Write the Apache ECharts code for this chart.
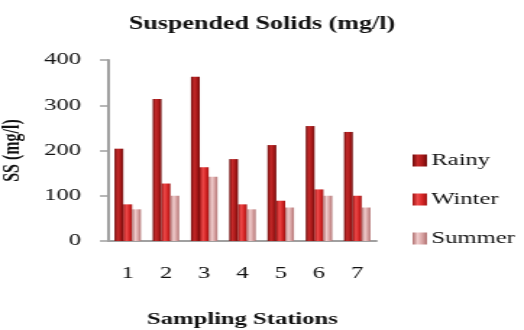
<!DOCTYPE html>
<html>
<head>
<meta charset="UTF-8">
<title>Suspended Solids</title>
<script type="text/javascript" src="https://cdn.jsdelivr.net/npm/echarts@6/dist/echarts.min.js"></script>
<style>
  html, body { margin: 0; padding: 0; background: #fff; overflow: hidden; }
  /* the original picture is stretched sideways, so the chart is drawn narrow and widened */
  #main { width: 362px; height: 330px; transform: scaleX(1.4475); transform-origin: 0 0; }
</style>
</head>
<body>
	<div id="main"></div>
<script type="text/javascript">
var stations = ['1', '2', '3', '4', '5', '6', '7'];
var rainy = [204, 314, 363, 181, 212, 254, 241];
var winter = [81, 127, 163, 81, 89, 114, 100];
var summer = [70, 100, 142, 70, 74, 100, 74];

var serif = '"Liberation Serif", "DejaVu Serif", serif';

function barColor(dark, mid, light) {
  return new echarts.graphic.LinearGradient(0, 0, 1, 0, [
    { offset: 0, color: dark },
    { offset: 0.35, color: light },
    { offset: 0.7, color: mid },
    { offset: 1, color: dark }
  ]);
}

var myChart = echarts.init(document.getElementById('main'));

function makeSeries(name, data, c) {
  return {
    name: name,
    type: 'bar',
    data: data,
    barWidth: 6.1,
    barGap: '0%',
    itemStyle: { color: c }
  };
}

var option = {
  backgroundColor: '#fff',
  animation: false,
  title: {
    text: 'Suspended Solids (mg/l)',
    left: 176,
    textAlign: 'center',
    top: 10,
    textStyle: { fontFamily: serif, fontSize: 18, fontWeight: 'bold', color: '#111' }
  },
  legend: {
    orient: 'vertical',
    left: 280,
    top: 147,
    itemWidth: 10,
    itemHeight: 12,
    itemGap: 22,
    icon: 'rect',
    textStyle: { fontFamily: serif, fontSize: 17, color: '#111', padding: [0, 0, 0, -2] },
    data: ['Rainy', 'Winter', 'Summer']
  },
  grid: { left: 75, right: 102, top: 60, bottom: 89, outerBoundsMode: 'none' },
  xAxis: {
    type: 'category',
    data: stations,
    name: 'Sampling Stations',
    nameLocation: 'middle',
    nameGap: 70,
    nameTextStyle: { fontFamily: serif, fontSize: 17, fontWeight: 'bold', color: '#111' },
    axisLine: { lineStyle: { color: '#a0a0a0', width: 2 } },
    axisTick: { show: false },
    axisLabel: { fontFamily: serif, fontSize: 17, color: '#111', margin: 24 }
  },
  yAxis: {
    type: 'value',
    min: 0,
    max: 400,
    interval: 100,
    name: 'SS (mg/l)',
    nameLocation: 'middle',
    nameGap: 58,
    nameTextStyle: { fontFamily: serif, fontSize: 16, fontWeight: 'bold', color: '#111' },
    axisLine: { show: true, lineStyle: { color: '#a0a0a0', width: 2 } },
    axisTick: { show: true, length: 6, lineStyle: { color: '#a0a0a0', width: 1.5 } },
    axisLabel: { fontFamily: serif, fontSize: 17, color: '#111', margin: 19 },
    splitLine: { show: false }
  },
  series: [
    makeSeries('Rainy', rainy, barColor('#6e0a0a', '#a81818', '#c42a2a')),
    makeSeries('Winter', winter, barColor('#a01414', '#d42424', '#ee4a4a')),
    makeSeries('Summer', summer, barColor('#b07070', '#d6a0a0', '#f0cccc'))
  ]
};

myChart.setOption(option);
</script>
</body>
</html>
